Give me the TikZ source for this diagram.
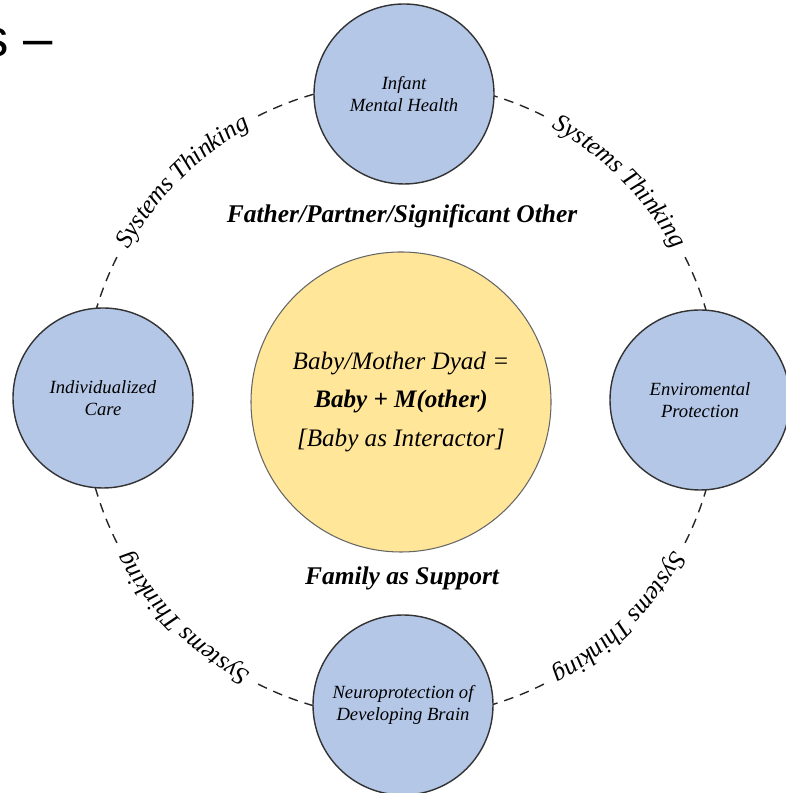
\documentclass[tikz,border=0pt]{standalone}
\usepackage{fontspec}
\setmainfont{Liberation Serif}
\newfontfamily\titlefont{Liberation Sans}
\usetikzlibrary{decorations.text}
\definecolor{ndblue}{RGB}{180,199,231}
\definecolor{ndyellow}{RGB}{255,230,153}

\begin{document}
\begin{tikzpicture}
	\tikzset{nd/.style={circle, draw=black!80, line width=0.8pt, fill=ndblue, minimum size=3.6cm, inner sep=0pt, align=center, font=\itshape\fontsize{10.6}{12.5}\selectfont},
		ring/.style={dash pattern=on 5.5pt off 4pt, line width=0.8pt, black!85},
		lbl/.style={font=\bfseries\itshape\fontsize{14.5}{17}\selectfont}};

	\useasboundingbox (0,0) rectangle (15.7,15.86);

	\coordinate (c) at (8.02,7.86);

	% dashed ring with the four labels
	\foreach \m in {135,45,-45,-135} {
		\draw[ring] (c) ++({\m+18.3}:6.36) arc[start angle=\m+18.3, end angle=\m+30, radius=6.36];
		\draw[ring] (c) ++({\m-18.3}:6.36) arc[start angle=\m-18.3, end angle=\m-30, radius=6.36];
		\path[decorate, decoration={text along path, text align=center, raise=-3.8pt,
			text={|\itshape\fontsize{14.5}{14.5}\selectfont|Systems Thinking}}]
			(c) ++({\m+19}:6.36) arc[start angle=\m+19, end angle=\m-19, radius=6.36];
	}

	\node[nd] (infant) at (8.08,13.98) {Infant\\Mental Health};
	\node[nd] (indiv) at (2.06,7.9) {Individualized\\Care};
	\node[nd] (enviro) at (14.0,7.86) {Enviromental\\Protection};
	\node[nd] (neuro) at (8.06,1.76) {Neuroprotection of\\Developing Brain};

	\node[circle, draw=black!60, line width=0.6pt, fill=ndyellow, minimum size=6cm, align=center,
		font=\itshape\fontsize{14.3}{22}\selectfont] (dyad) at (8.02,7.82)
		{Baby/Mother Dyad =\\\textbf{Baby + M(other)}\\{[}Baby as Interactor]};

	\node[lbl] (father) at (8.04,11.54) {Father/Partner/Significant Other};
	\node[lbl] (family) at (8.04,4.3) {Family as Support};

	\node[anchor=base east, inner sep=0pt, font=\titlefont\fontsize{30}{30}\selectfont] (title) at (1.06,14.72) {s –};
\end{tikzpicture}
\end{document}
